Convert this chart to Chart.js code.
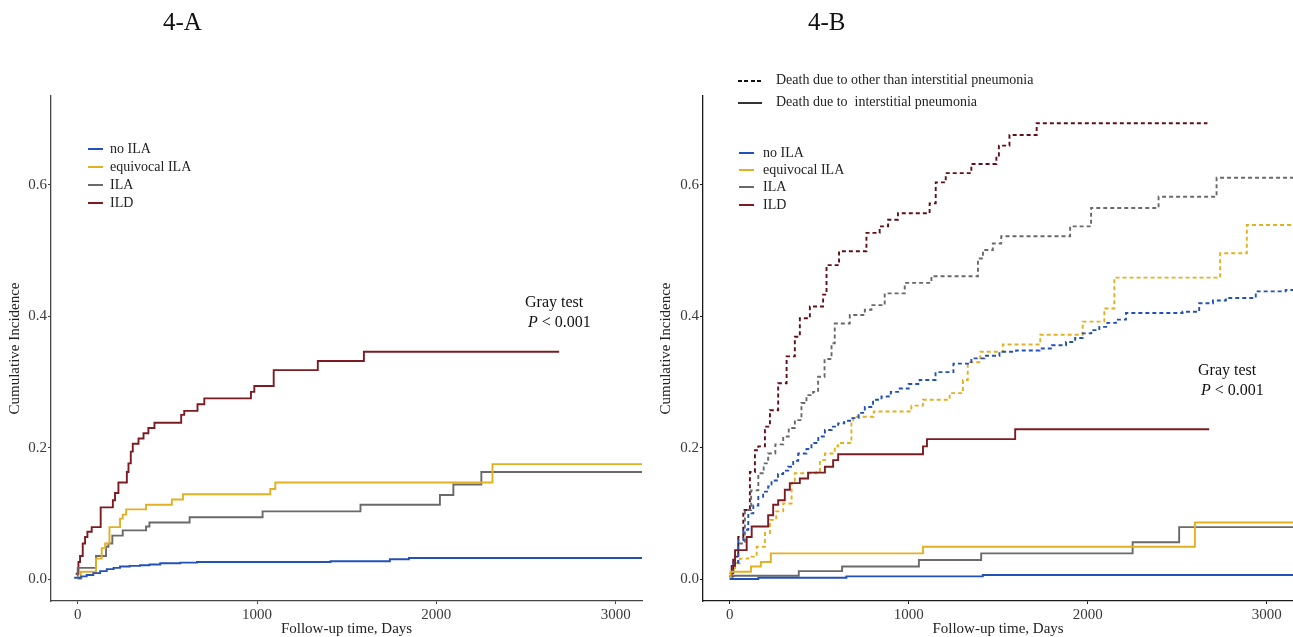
<!DOCTYPE html>
<html>
<head>
<meta charset="utf-8">
<script src="https://cdn.jsdelivr.net/npm/chart.js@4/dist/chart.umd.min.js"></script>
<style>
  html, body { margin: 0; padding: 0; background: #fff; }
  #page { position: relative; width: 1293px; height: 637px; overflow: hidden; background: #fff;
          font-family: "Liberation Serif", "DejaVu Serif", serif; color: #111; }
  canvas { position: absolute; top: 0; }
  .t { position: absolute; white-space: pre; line-height: 16px; font-size: 14px; color: #222; }
  .sw { position: absolute; height: 2px; }
  .title { position: absolute; font-size: 25px; line-height: 30px; white-space: pre; color: #111; }
  .ann { position: absolute; font-size: 16px; line-height: 18px; white-space: pre; color: #111; }
</style>
</head>
<body>
<div id="page">
  <canvas id="cA" width="650" height="637" style="left:0px"></canvas>
  <canvas id="cB" width="643" height="637" style="left:650px"></canvas>

  <div class="title" style="left:163px; top:7px;">4-A</div>
  <div class="title" style="left:808px; top:7px;">4-B</div>

  <div id="legA"></div>
  <div id="legB"></div>

  <div class="sw" style="left:738px; top:80px; width:24px; height:1.6px; background:repeating-linear-gradient(to right, #111 0px, #111 4px, transparent 4px, transparent 6.5px);"></div>
  <div class="t" style="left:776px; top:72px;">Death due to other than interstitial pneumonia</div>
  <div class="sw" style="left:738px; top:101.5px; width:24px; height:2px; background:#333;"></div>
  <div class="t" style="left:776px; top:94px;">Death due to  interstitial pneumonia</div>

  <div class="ann" style="left:525px; top:293px;">Gray test</div>
  <div class="ann" style="left:528px; top:313px;"><i>P</i> &lt; 0.001</div>
  <div class="ann" style="left:1198px; top:361px;">Gray test</div>
  <div class="ann" style="left:1201px; top:381px;"><i>P</i> &lt; 0.001</div>
</div>
<script>
// ---------------- data ----------------
const groupNames = ["no ILA", "equivocal ILA", "ILA", "ILD"];
const xTickValues = [0, 1000, 2000, 3000];
const yTickValues = [0, 0.2, 0.4, 0.6];
const yTickLabels = ["0.0", "0.2", "0.4", "0.6"];

// 4-A : cumulative incidence of death
const aNoIlaDays   = [-20, 20, 50, 87, 125, 162, 200, 236, 290, 348, 400, 460, 572, 665, 1410, 1741, 1847, 3200];
const aNoIlaInc    = [0.002, 0.004, 0.006, 0.009, 0.012, 0.015, 0.017, 0.019, 0.020, 0.021, 0.022, 0.024, 0.025, 0.026, 0.027, 0.030, 0.032, 0.032];
const aEquivDays   = [0, 17, 102, 134, 153, 177, 236, 251, 270, 381, 525, 587, 1074, 1102, 2313, 3200];
const aEquivInc    = [0.0, 0.011, 0.031, 0.047, 0.054, 0.079, 0.092, 0.098, 0.106, 0.113, 0.121, 0.129, 0.137, 0.147, 0.175, 0.175];
const aIlaDays     = [-3, 0, 102, 158, 171, 193, 251, 381, 400, 624, 1031, 1577, 2020, 2095, 2251, 3200];
const aIlaInc      = [0.005, 0.017, 0.035, 0.049, 0.054, 0.066, 0.074, 0.080, 0.086, 0.094, 0.103, 0.113, 0.128, 0.144, 0.163, 0.163];
const aIldDays     = [-11, 4, 13, 28, 41, 54, 78, 128, 196, 208, 227, 274, 283, 296, 307, 339, 367, 394, 428, 577, 594, 668, 706, 966, 985, 1093, 1339, 1596, 2685];
const aIldInc      = [0.008, 0.026, 0.035, 0.054, 0.064, 0.072, 0.079, 0.109, 0.120, 0.131, 0.147, 0.163, 0.176, 0.194, 0.206, 0.214, 0.222, 0.230, 0.238, 0.250, 0.256, 0.266, 0.275, 0.285, 0.294, 0.318, 0.332, 0.346, 0.346];

// 4-B : death due to interstitial pneumonia (solid)
const bNoIlaIpDays = [0, 160, 652, 1414, 3200];
const bNoIlaIpInc  = [0.0, 0.002, 0.004, 0.006, 0.006];
const bEquivIpDays = [0, 5, 119, 174, 230, 1080, 2599, 3200];
const bEquivIpInc  = [0.0, 0.011, 0.019, 0.026, 0.039, 0.049, 0.086, 0.086];
const bIlaIpDays   = [0, 386, 628, 1057, 1405, 2251, 2511, 3200];
const bIlaIpInc    = [0.005, 0.012, 0.019, 0.029, 0.039, 0.056, 0.079, 0.079];
const bIldIpDays   = [0, 11, 30, 95, 123, 215, 243, 271, 308, 336, 392, 438, 532, 578, 606, 1080, 1102, 1595, 2679];
const bIldIpInc    = [0.004, 0.020, 0.044, 0.064, 0.080, 0.097, 0.113, 0.120, 0.136, 0.146, 0.153, 0.162, 0.171, 0.181, 0.190, 0.202, 0.213, 0.228, 0.228];

// 4-B : death due to other than interstitial pneumonia (dashed)
const bNoIlaOtDays = [0, 20, 48, 76, 104, 132, 160, 187, 215, 234, 270, 299, 327, 355, 383, 429, 457, 495, 532, 570, 606, 640, 680, 720, 755, 801, 848, 900, 950, 1000, 1061, 1150, 1250, 1350, 1424, 1507, 1600, 1731, 1800, 1879, 1930, 1972, 2020, 2065, 2110, 2158, 2214, 2530, 2623, 2700, 2772, 2939, 3106, 3200];
const bNoIlaOtInc  = [0.004, 0.025, 0.059, 0.075, 0.100, 0.112, 0.125, 0.133, 0.141, 0.150, 0.160, 0.165, 0.171, 0.180, 0.191, 0.198, 0.207, 0.217, 0.227, 0.232, 0.237, 0.241, 0.245, 0.253, 0.262, 0.273, 0.278, 0.285, 0.290, 0.297, 0.303, 0.315, 0.328, 0.336, 0.340, 0.346, 0.348, 0.351, 0.356, 0.361, 0.367, 0.374, 0.379, 0.384, 0.390, 0.395, 0.405, 0.407, 0.420, 0.424, 0.428, 0.438, 0.440, 0.440];
const bEquivOtDays = [0, 15, 30, 57, 104, 151, 197, 225, 260, 299, 346, 364, 485, 504, 532, 587, 606, 680, 690, 805, 1015, 1080, 1229, 1303, 1330, 1400, 1526, 1735, 1972, 2093, 2149, 2740, 2889, 3200];
const bEquivOtInc  = [0.002, 0.015, 0.024, 0.031, 0.034, 0.049, 0.070, 0.090, 0.103, 0.115, 0.146, 0.161, 0.163, 0.181, 0.191, 0.202, 0.207, 0.237, 0.247, 0.255, 0.264, 0.273, 0.283, 0.303, 0.330, 0.346, 0.357, 0.372, 0.392, 0.412, 0.459, 0.496, 0.539, 0.539];
const bIlaOtDays   = [0, 20, 48, 85, 120, 160, 190, 215, 255, 299, 330, 364, 401, 429, 466, 494, 530, 569, 587, 671, 755, 792, 866, 978, 1127, 1387, 1415, 1470, 1517, 1902, 2019, 2396, 2720, 3200];
const bIlaOtInc    = [0.004, 0.025, 0.054, 0.105, 0.135, 0.161, 0.176, 0.191, 0.205, 0.217, 0.230, 0.242, 0.268, 0.280, 0.285, 0.308, 0.335, 0.359, 0.389, 0.402, 0.410, 0.417, 0.435, 0.451, 0.461, 0.488, 0.501, 0.511, 0.522, 0.537, 0.565, 0.582, 0.611, 0.611];
const bIldOtDays   = [0, 20, 48, 76, 113, 141, 160, 197, 225, 271, 318, 364, 392, 448, 522, 541, 611, 764, 838, 885, 940, 1117, 1151, 1207, 1350, 1490, 1504, 1563, 1715, 2669];
const bIldOtInc    = [0.009, 0.034, 0.064, 0.105, 0.163, 0.196, 0.202, 0.232, 0.257, 0.298, 0.339, 0.369, 0.397, 0.415, 0.433, 0.478, 0.499, 0.527, 0.537, 0.547, 0.557, 0.572, 0.604, 0.618, 0.632, 0.645, 0.660, 0.676, 0.694, 0.694];

// ---------------- styling ----------------
const COLORS = { noIla: "#2451b8", equiv: "#e3b021", ila: "#6a6a6a", ild: "#7b1c22", ildDash: "#620e19" };
const groupColors = [COLORS.noIla, COLORS.equiv, COLORS.ila, COLORS.ild];
const FONT = "'Liberation Serif', 'DejaVu Serif', serif";

function pts(xs, ys) { return xs.map((x, i) => ({ x: x, y: ys[i] })); }
function ds(label, xs, ys, color, dashed) {
  return {
    label: label, data: pts(xs, ys), borderColor: color, backgroundColor: color,
    borderWidth: dashed ? 1.9 : 1.9, borderDash: dashed ? [4, 3] : [],
    stepped: 'before', pointRadius: 0, fill: false, tension: 0
  };
}

function makeOptions(yWidth, padRight, axisColor, yTitlePad) {
  return {
    responsive: false, animation: false, events: [],
    layout: { padding: { top: 96, right: padRight, bottom: 0, left: 0 } },
    plugins: { legend: { display: false }, tooltip: { enabled: false }, title: { display: false } },
    scales: {
      x: {
        type: 'linear', min: -149, max: 3147,
        afterBuildTicks: s => { s.ticks = xTickValues.map(v => ({ value: v })); },
        afterFit: s => { s.height = 36; },
        ticks: { font: { family: FONT, size: 15 }, color: '#3a3a3a', padding: 2, maxRotation: 0,
                 callback: v => String(v) },
        grid: { drawOnChartArea: false, drawTicks: true, tickLength: 3, color: axisColor },
        border: { display: true, color: axisColor, width: 1.3 },
        title: { display: true, text: 'Follow-up time, Days', font: { family: FONT, size: 15, lineHeight: 1 },
                 color: '#222', padding: { top: 0, bottom: 0 } }
      },
      y: {
        type: 'linear', min: -0.0335, max: 0.7355,
        afterBuildTicks: s => { s.ticks = yTickValues.map(v => ({ value: v })); },
        afterFit: s => { s.width = yWidth; },
        ticks: { font: { family: FONT, size: 15 }, color: '#3a3a3a', padding: 1,
                 callback: (v) => { const i = yTickValues.findIndex(t => Math.abs(t - v) < 1e-9); return i >= 0 ? yTickLabels[i] : ''; } },
        grid: { drawOnChartArea: false, drawTicks: true, tickLength: 3, color: axisColor },
        border: { display: true, color: axisColor, width: 1.3 },
        title: { display: true, text: 'Cumulative Incidence', font: { family: FONT, size: 15, lineHeight: 1 },
                 color: '#222', padding: { top: yTitlePad, bottom: 0 } }
      }
    }
  };
}

new Chart(document.getElementById('cA'), {
  type: 'line',
  data: { datasets: [
    ds(groupNames[0], aNoIlaDays, aNoIlaInc, COLORS.noIla, false),
    ds(groupNames[1], aEquivDays, aEquivInc, COLORS.equiv, false),
    ds(groupNames[2], aIlaDays, aIlaInc, COLORS.ila, false),
    ds(groupNames[3], aIldDays, aIldInc, COLORS.ild, false)
  ] },
  options: makeOptions(51, 8, '#444', 8)
});

new Chart(document.getElementById('cB'), {
  type: 'line',
  data: { datasets: [
    ds(groupNames[0] + ' (IP)', bNoIlaIpDays, bNoIlaIpInc, COLORS.noIla, false),
    ds(groupNames[1] + ' (IP)', bEquivIpDays, bEquivIpInc, COLORS.equiv, false),
    ds(groupNames[2] + ' (IP)', bIlaIpDays, bIlaIpInc, COLORS.ila, false),
    ds(groupNames[3] + ' (IP)', bIldIpDays, bIldIpInc, COLORS.ild, false),
    ds(groupNames[0] + ' (other)', bNoIlaOtDays, bNoIlaOtInc, COLORS.noIla, true),
    ds(groupNames[1] + ' (other)', bEquivOtDays, bEquivOtInc, COLORS.equiv, true),
    ds(groupNames[2] + ' (other)', bIlaOtDays, bIlaOtInc, COLORS.ila, true),
    ds(groupNames[3] + ' (other)', bIldOtDays, bIldOtInc, COLORS.ildDash, true)
  ] },
  options: makeOptions(53, 0, '#1a1a1a', 9)
});

// HTML legends (real text)
function buildLegend(el, lineX, textX, centers) {
  let html = '';
  groupNames.forEach((name, i) => {
    html += '<div class="sw" style="left:' + lineX + 'px; top:' + (centers[i] - 1) + 'px; width:15px; background:' + groupColors[i] + ';"></div>';
    html += '<div class="t" style="left:' + textX + 'px; top:' + (centers[i] - 8) + 'px;">' + name + '</div>';
  });
  el.innerHTML = html;
}
buildLegend(document.getElementById('legA'), 88, 110, [149, 167, 185, 203]);
buildLegend(document.getElementById('legB'), 739, 763, [153, 170, 187, 205]);
</script>
</body>
</html>
